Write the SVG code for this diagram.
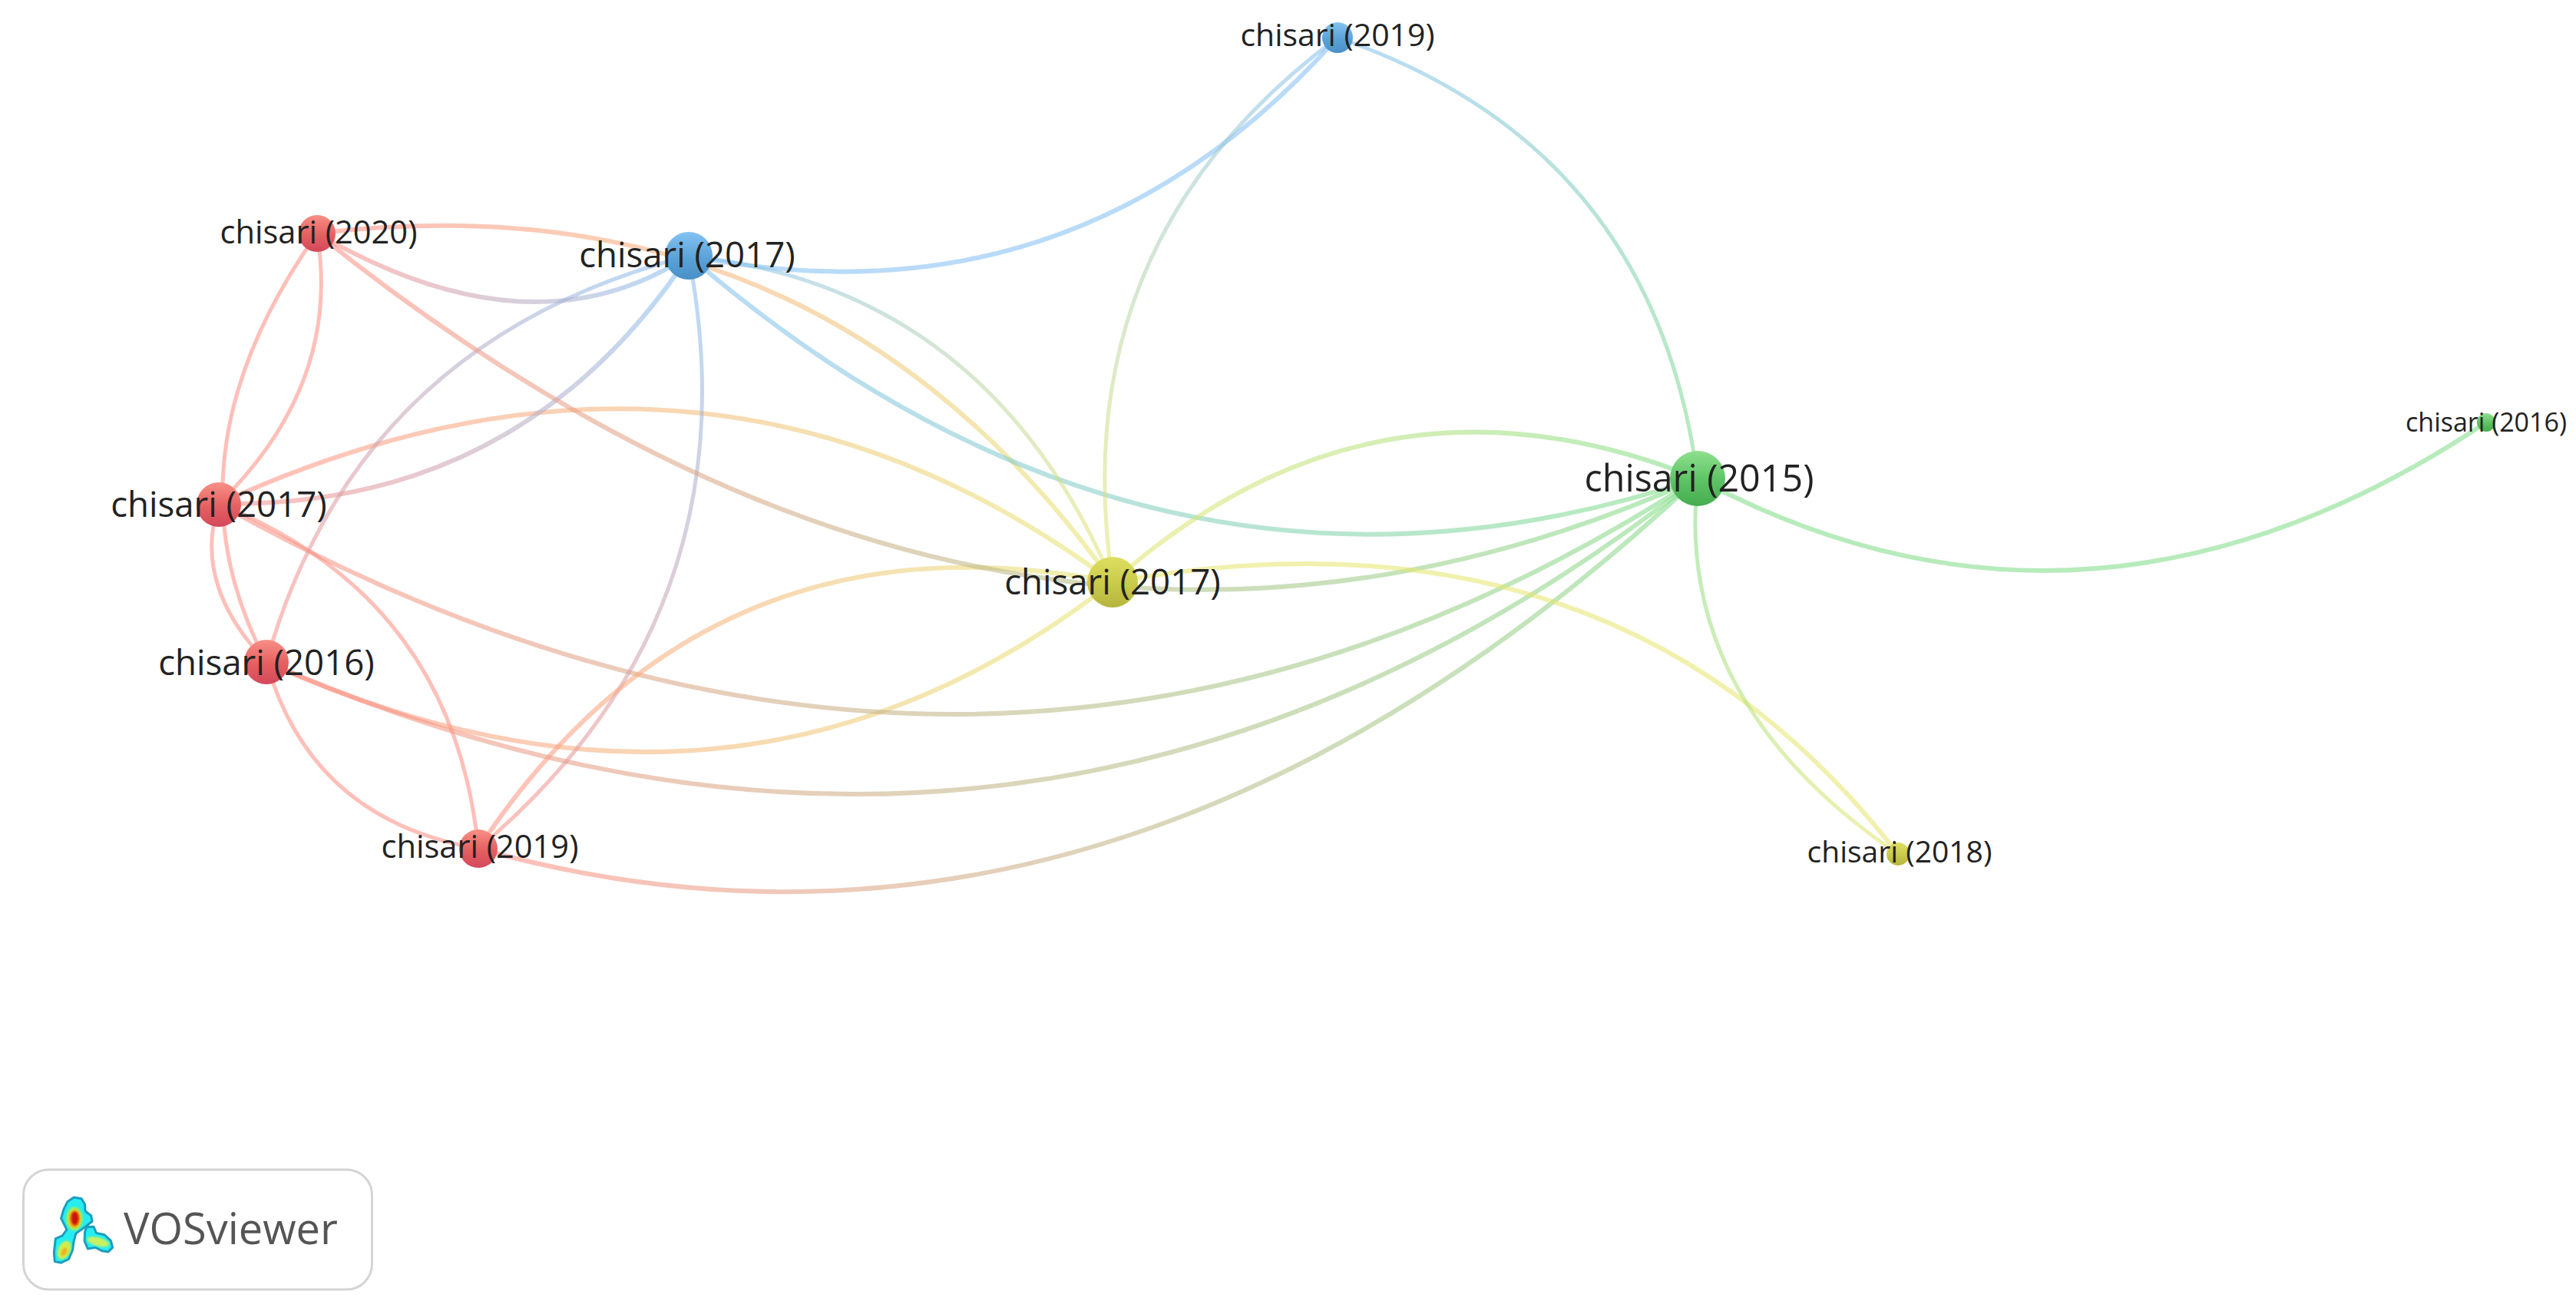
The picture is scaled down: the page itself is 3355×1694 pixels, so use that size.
<svg xmlns="http://www.w3.org/2000/svg" width="3355" height="1694" viewBox="0 0 3355 1694">
<style>
.e{fill:none;stroke-linecap:round;stroke-opacity:.56}
.l{font-family:"Open Sans","Noto Sans","Liberation Sans",sans-serif;fill:#222;text-anchor:middle}
.logo{font-family:"Open Sans","Noto Sans","Liberation Sans",sans-serif;fill:#555;font-size:56px}
</style>
<defs>
<linearGradient id="nr" x1="0" y1="0" x2="0" y2="1"><stop offset="0" stop-color="#f98f86"/><stop offset=".55" stop-color="#e55f60"/><stop offset="1" stop-color="#d4485c"/></linearGradient>
<linearGradient id="nb" x1="0" y1="0" x2="0" y2="1"><stop offset="0" stop-color="#84c3f2"/><stop offset=".55" stop-color="#5aa2d8"/><stop offset="1" stop-color="#4a90c6"/></linearGradient>
<linearGradient id="ng" x1="0" y1="0" x2="0" y2="1"><stop offset="0" stop-color="#8fe08f"/><stop offset=".55" stop-color="#5cc263"/><stop offset="1" stop-color="#45ad50"/></linearGradient>
<linearGradient id="ny" x1="0" y1="0" x2="0" y2="1"><stop offset="0" stop-color="#dede62"/><stop offset=".55" stop-color="#c9c94a"/><stop offset="1" stop-color="#b5b53e"/></linearGradient>
<linearGradient id="g6" gradientUnits="userSpaceOnUse" x1="347" y1="862" x2="1449" y2="758"><stop offset="0" stop-color="#ff8d82"/><stop offset="1" stop-color="#e6e66e"/></linearGradient>
<linearGradient id="g7" gradientUnits="userSpaceOnUse" x1="347" y1="862" x2="2211" y2="623"><stop offset="0" stop-color="#ff8d82"/><stop offset="1" stop-color="#7fdc86"/></linearGradient>
<linearGradient id="g8" gradientUnits="userSpaceOnUse" x1="285" y1="656" x2="2211" y2="623"><stop offset="0" stop-color="#ff8d82"/><stop offset="1" stop-color="#7fdc86"/></linearGradient>
<linearGradient id="g9" gradientUnits="userSpaceOnUse" x1="623" y1="1105" x2="2211" y2="623"><stop offset="0" stop-color="#ff8d82"/><stop offset="1" stop-color="#7fdc86"/></linearGradient>
<linearGradient id="g10" gradientUnits="userSpaceOnUse" x1="285" y1="656" x2="1449" y2="758"><stop offset="0" stop-color="#ff8d82"/><stop offset="1" stop-color="#e6e66e"/></linearGradient>
<linearGradient id="g11" gradientUnits="userSpaceOnUse" x1="285" y1="656" x2="897" y2="333"><stop offset="0" stop-color="#ff8d82"/><stop offset="1" stop-color="#82bff2"/></linearGradient>
<linearGradient id="g12" gradientUnits="userSpaceOnUse" x1="347" y1="862" x2="897" y2="333"><stop offset="0" stop-color="#ff8d82"/><stop offset="1" stop-color="#82bff2"/></linearGradient>
<linearGradient id="g13" gradientUnits="userSpaceOnUse" x1="623" y1="1105" x2="897" y2="333"><stop offset="0" stop-color="#ff8d82"/><stop offset="1" stop-color="#82bff2"/></linearGradient>
<linearGradient id="g14" gradientUnits="userSpaceOnUse" x1="623" y1="1105" x2="1449" y2="758"><stop offset="0" stop-color="#ff8d82"/><stop offset="1" stop-color="#e6e66e"/></linearGradient>
<linearGradient id="g15" gradientUnits="userSpaceOnUse" x1="413" y1="304" x2="897" y2="333"><stop offset="0" stop-color="#ff8d82"/><stop offset="1" stop-color="#82bff2"/></linearGradient>
<linearGradient id="g16" gradientUnits="userSpaceOnUse" x1="413" y1="304" x2="1449" y2="758"><stop offset="0" stop-color="#ff8d82"/><stop offset="1" stop-color="#e6e66e"/></linearGradient>
<linearGradient id="g17" gradientUnits="userSpaceOnUse" x1="413" y1="304" x2="2211" y2="623"><stop offset="0" stop-color="#ff8d82"/><stop offset="1" stop-color="#7fdc86"/></linearGradient>
<linearGradient id="g19" gradientUnits="userSpaceOnUse" x1="897" y1="333" x2="2211" y2="623"><stop offset="0" stop-color="#82bff2"/><stop offset="1" stop-color="#7fdc86"/></linearGradient>
<linearGradient id="g20" gradientUnits="userSpaceOnUse" x1="897" y1="333" x2="1449" y2="758"><stop offset="0" stop-color="#82bff2"/><stop offset="1" stop-color="#e6e66e"/></linearGradient>
<linearGradient id="g21" gradientUnits="userSpaceOnUse" x1="1449" y1="758" x2="1742" y2="49"><stop offset="0" stop-color="#e6e66e"/><stop offset="1" stop-color="#82bff2"/></linearGradient>
<linearGradient id="g22" gradientUnits="userSpaceOnUse" x1="1742" y1="49" x2="2211" y2="623"><stop offset="0" stop-color="#82bff2"/><stop offset="1" stop-color="#7fdc86"/></linearGradient>
<linearGradient id="g23" gradientUnits="userSpaceOnUse" x1="1449" y1="758" x2="2211" y2="623"><stop offset="0" stop-color="#e6e66e"/><stop offset="1" stop-color="#7fdc86"/></linearGradient>
<linearGradient id="g25" gradientUnits="userSpaceOnUse" x1="2211" y1="623" x2="2472" y2="1112"><stop offset="0" stop-color="#7fdc86"/><stop offset="1" stop-color="#e6e66e"/></linearGradient>
<filter id="soft" x="-20%" y="-20%" width="140%" height="140%"><feGaussianBlur stdDeviation="2.5"/></filter>
<filter id="soft2" x="-10%" y="-10%" width="120%" height="120%"><feGaussianBlur stdDeviation="1.5"/></filter>
</defs>
<rect width="3355" height="1694" fill="#fff"/>
<g id="connectors">
<path class="e" stroke="#ff8d82" stroke-width="5" d="M413 304Q445 500 285 656"/>
<path class="e" stroke="#ff8d82" stroke-width="5" d="M413 304Q206 597 347 862"/>
<path class="e" stroke="#ff8d82" stroke-width="5" d="M285 656Q250 761 347 862"/>
<path class="e" stroke="#ff8d82" stroke-width="5" d="M285 656Q590 778 623 1105"/>
<path class="e" stroke="#ff8d82" stroke-width="5" d="M347 862Q405 1067 623 1105"/>
<path class="e" stroke="url(#g6)" stroke-width="6" d="M347 862Q960 1140 1449 758"/>
<path class="e" stroke="url(#g7)" stroke-width="6" d="M347 862Q1350 1300 2211 623"/>
<path class="e" stroke="url(#g8)" stroke-width="6" d="M285 656Q1290 1220 2211 623"/>
<path class="e" stroke="url(#g9)" stroke-width="6" d="M623 1105Q1450 1335 2211 623"/>
<path class="e" stroke="url(#g10)" stroke-width="6" d="M285 656Q920 365 1449 758"/>
<path class="e" stroke="url(#g11)" stroke-width="6" d="M285 656Q679 662 897 333"/>
<path class="e" stroke="url(#g12)" stroke-width="5" d="M347 862Q464 445 897 333"/>
<path class="e" stroke="url(#g13)" stroke-width="5" d="M623 1105Q986 799 897 333"/>
<path class="e" stroke="url(#g14)" stroke-width="6" d="M623 1105Q920 655 1449 758"/>
<path class="e" stroke="url(#g15)" stroke-width="6" d="M413 304Q693 466 897 333"/>
<path class="e" stroke="url(#g16)" stroke-width="6" d="M413 304Q1069 225 1449 758"/>
<path class="e" stroke="url(#g17)" stroke-width="6" d="M413 304Q1312 1027 2211 623"/>
<path class="e" stroke="#82bff2" stroke-width="6" d="M897 333Q1400 433 1742 49"/>
<path class="e" stroke="url(#g19)" stroke-width="6" d="M897 333Q1506 858 2211 623"/>
<path class="e" stroke="url(#g20)" stroke-width="5" d="M897 333Q1287 375 1449 758"/>
<path class="e" stroke="url(#g21)" stroke-width="5" d="M1449 758Q1383 315 1742 49"/>
<path class="e" stroke="url(#g22)" stroke-width="5" d="M1742 49Q2154 190 2211 623"/>
<path class="e" stroke="url(#g23)" stroke-width="6" d="M1449 758Q1790 454 2211 623"/>
<path class="e" stroke="#e6e66e" stroke-width="6" d="M1449 758Q2106 639 2472 1112"/>
<path class="e" stroke="url(#g25)" stroke-width="5" d="M2211 623Q2179 913 2472 1112"/>
<path class="e" stroke="#7fdc86" stroke-width="6" d="M2211 623Q2720 895 3238 550"/>
</g>
<g id="n-r2020"><circle cx="413" cy="304" r="24" fill="url(#nr)"/><text class="l" x="415" y="317" font-size="41.6">chisari (2020)</text></g>
<g id="n-r2017"><circle cx="285" cy="657" r="29" fill="url(#nr)"/><text class="l" x="285" y="673" font-size="45.6">chisari (2017)</text></g>
<g id="n-r2016"><circle cx="347" cy="862" r="29" fill="url(#nr)"/><text class="l" x="347" y="879" font-size="45.6">chisari (2016)</text></g>
<g id="n-r2019"><circle cx="623" cy="1105" r="25" fill="url(#nr)"/><text class="l" x="625" y="1117" font-size="41.6">chisari (2019)</text></g>
<g id="n-b2017"><circle cx="897" cy="333" r="31" fill="url(#nb)"/><text class="l" x="895" y="348" font-size="45.6">chisari (2017)</text></g>
<g id="n-b2019"><circle cx="1742" cy="49" r="20" fill="url(#nb)"/><text class="l" x="1742" y="60" font-size="41">chisari (2019)</text></g>
<g id="n-y2017"><circle cx="1449" cy="758" r="33" fill="url(#ny)"/><text class="l" x="1449" y="774" font-size="45.6">chisari (2017)</text></g>
<g id="n-g2015"><circle cx="2211" cy="623" r="36" fill="url(#ng)"/><text class="l" x="2213" y="640" font-size="48.4">chisari (2015)</text></g>
<g id="n-g2016"><circle cx="3238" cy="550" r="12" fill="url(#ng)"/><text class="l" x="3238" y="562" font-size="34">chisari (2016)</text></g>
<g id="n-y2018"><circle cx="2472" cy="1112" r="15" fill="url(#ny)"/><text class="l" x="2474" y="1123" font-size="39">chisari (2018)</text></g>
<g id="logo">
<rect x="30.5" y="1523" width="454" height="156" rx="33" fill="#fff" stroke="#d4d4d4" stroke-width="3"/>
<text class="logo" x="161" y="1620">VOSviewer</text>
<g transform="translate(0 1500) scale(.3317)">
<g filter="url(#soft2)">
<path d="M290 178L320 183L333 205L335 232L358 250L362 272L340 290L315 308L298 320L290 350L285 385L270 420L240 435L215 430L212 395L218 340L245 328L262 305L250 280L240 260L250 225L265 195Z M340 295L368 293L378 318L410 325L435 348L442 375L425 392L400 388L375 375L345 380L332 350L333 315Z" fill="#25eef0" stroke="#1c9cc0" stroke-width="9" stroke-linejoin="round"/>
</g>
<g filter="url(#soft)">
<ellipse cx="292" cy="262" rx="32" ry="46" fill="#a8ee50"/>
<ellipse cx="252" cy="385" rx="24" ry="38" fill="#cfee48" transform="rotate(25 252 385)"/>
<ellipse cx="385" cy="352" rx="44" ry="17" fill="#c8f060" transform="rotate(15 385 352)"/>
<ellipse cx="293" cy="262" rx="23" ry="35" fill="#ffa000"/>
</g>
<ellipse cx="252" cy="392" rx="10" ry="18" fill="#f0b020" transform="rotate(30 252 392)" filter="url(#soft)"/>
<ellipse cx="294" cy="260" rx="15" ry="27" fill="#c81808" filter="url(#soft)"/>
</g>
</g>
</svg>
